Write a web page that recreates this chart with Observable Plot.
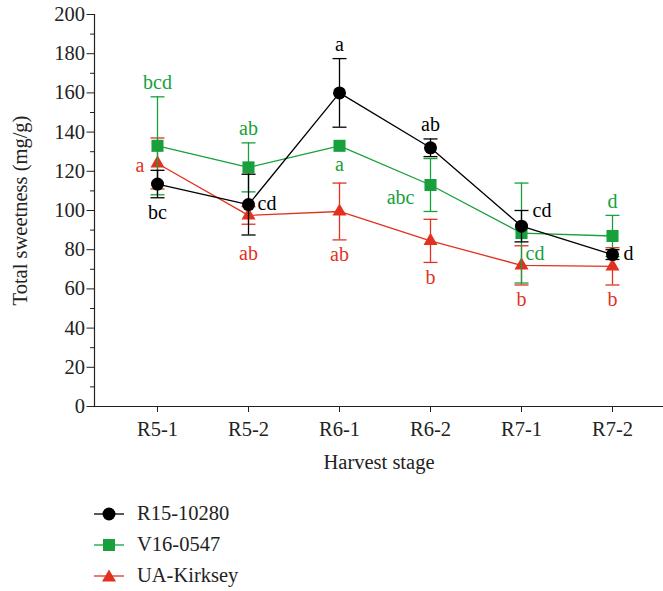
<!DOCTYPE html>
<html>
<head>
<meta charset="utf-8">
<script src="https://cdn.jsdelivr.net/npm/d3@7"></script>
<script src="https://cdn.jsdelivr.net/npm/@observablehq/plot@0.6"></script>
<style>
  body { margin: 0; background: #fff; font-family: "Liberation Serif", "DejaVu Serif", serif; }
  #legend { padding-left: 94px; padding-top: 8px; }
  .row { display: flex; align-items: center; height: 31px; font-size: 20.5px; color: #222; }
  .row svg { margin-right: 13px; }
</style>
</head>
<body>
<div id="chart"></div>
<div id="legend"></div>
<script>
// ---- data ----
const stages = ["R5-1", "R5-2", "R6-1", "R6-2", "R7-1", "R7-2"];
const seriesNames = ["R15-10280", "V16-0547", "UA-Kirksey"];

const r15Mean = [113.5, 103, 160, 132, 92, 77.5];
const r15Err = [7, 15.5, 17.5, 4.5, 8, 2.5];
const r15Letters = ["bc", "cd", "a", "ab", "cd", "d"];

const v16Mean = [133, 122, 133, 113, 88.5, 87];
const v16Err = [25, 12.5, 0, 13.5, 25.5, 10.5];
const v16Letters = ["bcd", "ab", "a", "abc", "cd", "d"];

const uaMean = [124, 97.5, 99.5, 84.5, 72, 71.5];
const uaErr = [13, 4.5, 14.5, 11, 10, 9.5];
const uaLetters = ["a", "ab", "ab", "b", "b", "b"];

const yTicks = [0, 20, 40, 60, 80, 100, 120, 140, 160, 180, 200];

// ---- styling / layout config ----
const colors = {"R15-10280": "#000000", "V16-0547": "#17a03b", "UA-Kirksey": "#e2321f"};
const symbols = {"R15-10280": "circle", "V16-0547": "square", "UA-Kirksey": "triangle"};
const sizes = {"R15-10280": 6.5, "V16-0547": 6.8, "UA-Kirksey": 5.2};
const placements = {
  "R15-10280": ["below", "right", "above", "above", "rightTop", "rightFar"],
  "V16-0547": ["above", "above", "belowPoint", "leftLow", "rightLow", "above"],
  "UA-Kirksey": ["left", "below2", "below", "below", "below", "below"]
};
const placeCfg = {
  above:      {base: "top",    dx: 0,   dy: -14, anchor: "middle"},
  below:      {base: "bottom", dx: 0,   dy: 15,  anchor: "middle"},
  below2:     {base: "bottom", dx: 0,   dy: 29,  anchor: "middle"},
  belowPoint: {base: "mean",   dx: 0,   dy: 19,  anchor: "middle"},
  right:      {base: "mean",   dx: 9,   dy: -1,  anchor: "start"},
  rightFar:   {base: "mean",   dx: 11,  dy: -1,  anchor: "start"},
  rightTop:   {base: "top",    dx: 11,  dy: 0,   anchor: "start"},
  left:       {base: "mean",   dx: -13, dy: 2,   anchor: "end"},
  leftLow:    {base: "mean",   dx: -16, dy: 13,  anchor: "end"},
  rightLow:   {base: "mean",   dx: 4,   dy: 21,  anchor: "start"}
};

const means = {"R15-10280": r15Mean, "V16-0547": v16Mean, "UA-Kirksey": uaMean};
const errs = {"R15-10280": r15Err, "V16-0547": v16Err, "UA-Kirksey": uaErr};
const letters = {"R15-10280": r15Letters, "V16-0547": v16Letters, "UA-Kirksey": uaLetters};

const rows = seriesNames.flatMap(s => stages.map((stage, i) => ({
  series: s, stage, mean: means[s][i], err: errs[s][i], letter: letters[s][i], place: placements[s][i]
})));

const capSymbol = {draw(ctx) { ctx.moveTo(-7, 0); ctx.lineTo(7, 0); }};

const drawOrder = ["UA-Kirksey", "V16-0547", "R15-10280"];
const seriesMarks = drawOrder.flatMap(s => {
  const d = rows.filter(r => r.series === s);
  const de = d.filter(r => r.err > 0);
  const c = colors[s];
  return [
    Plot.line(d, {x: "stage", y: "mean", stroke: c, strokeWidth: 1.3}),
    Plot.ruleX(de, {x: "stage", y1: r => r.mean - r.err, y2: r => r.mean + r.err, stroke: c, strokeWidth: 1.3}),
    Plot.dot(de, {x: "stage", y: r => r.mean + r.err, symbol: capSymbol, stroke: c, strokeWidth: 1.3, fill: "none", r: 3}),
    Plot.dot(de, {x: "stage", y: r => r.mean - r.err, symbol: capSymbol, stroke: c, strokeWidth: 1.3, fill: "none", r: 3}),
    Plot.dot(d, {x: "stage", y: "mean", symbol: symbols[s], fill: c, stroke: "none", r: sizes[s]})
  ];
});

const labelMarks = Object.entries(placeCfg).map(([name, cfg]) =>
  Plot.text(rows.filter(r => r.place === name), {
    x: "stage",
    y: r => cfg.base === "top" ? r.mean + r.err : cfg.base === "bottom" ? r.mean - r.err : r.mean,
    text: "letter",
    fill: r => colors[r.series],
    dx: cfg.dx, dy: cfg.dy, textAnchor: cfg.anchor, lineAnchor: "middle",
    fontSize: 20
  })
);

const chart = Plot.plot({
  width: 663,
  height: 490,
  marginLeft: 94,
  marginRight: 0,
  marginTop: 14,
  marginBottom: 84,
  style: {fontFamily: "'Liberation Serif', 'DejaVu Serif', serif", fontSize: "20.5px", color: "#222", background: "#fff"},
  x: {type: "point", domain: stages, range: [155.5, 612.7], padding: 0},
  y: {domain: [0, 200]},
  marks: [
    Plot.axisY({ticks: yTicks, tickSize: 7.5, tickPadding: 2, fontSize: 20.5,
      label: "Total sweetness (mg/g)", labelAnchor: "center", labelArrow: "none", labelOffset: 82}),
    Plot.axisY({ticks: d3.range(10, 200, 20), tickSize: 4, text: null, label: null}),
    Plot.axisX({tickSize: 6, tickPadding: 9, fontSize: 20.5,
      label: "Harvest stage", labelAnchor: "center", labelArrow: "none", labelOffset: 62}),
    Plot.ruleY([0], {insetLeft: -7, stroke: "#222", strokeWidth: 1.2}),
    Plot.frame({anchor: "left", stroke: "#222", strokeWidth: 1.2}),
    ...seriesMarks,
    ...labelMarks
  ]
});
document.getElementById("chart").appendChild(chart);

// ---- legend (HTML below the SVG) ----
const legend = document.getElementById("legend");
const shapePath = {
  "R15-10280": '<circle cx="15" cy="10" r="6.5"/>',
  "V16-0547": '<rect x="9" y="4" width="12" height="12"/>',
  "UA-Kirksey": '<path d="M15,3.5 L22,15.5 L8,15.5 Z"/>'
};
seriesNames.forEach(s => {
  const row = document.createElement("div");
  row.className = "row";
  row.innerHTML = `<svg width="30" height="20"><line x1="0" x2="30" y1="10" y2="10" stroke="${colors[s]}" stroke-width="1.3"/><g fill="${colors[s]}">${shapePath[s]}</g></svg><span>${s}</span>`;
  legend.appendChild(row);
});
</script>
</body>
</html>
